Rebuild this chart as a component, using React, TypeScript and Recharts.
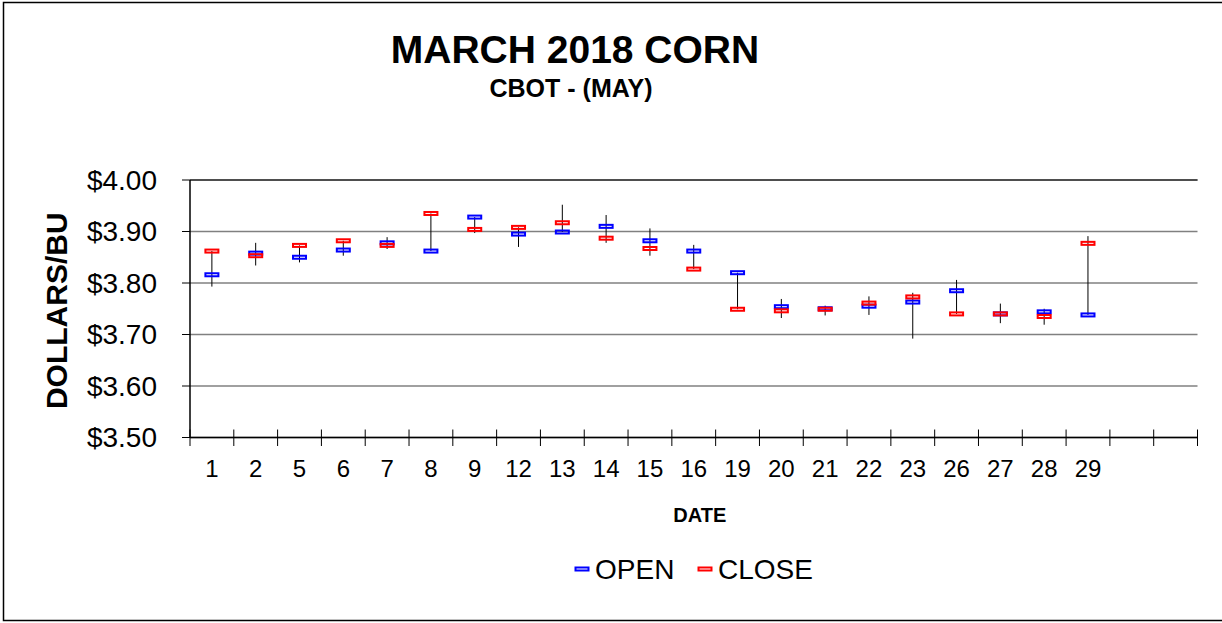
import React from "react"
import { Bar, CartesianGrid, ComposedChart, Line, ReferenceLine, XAxis, YAxis } from "recharts"

const DATES = ["1", "2", "5", "6", "7", "8", "9", "12", "13", "14", "15", "16", "19", "20", "21", "22", "23", "26", "27", "28", "29"]
const OPEN = [3.816, 3.858, 3.85, 3.864, 3.878, 3.862, 3.928, 3.895, 3.899, 3.91, 3.882, 3.862, 3.82, 3.754, 3.75, 3.755, 3.763, 3.785, 3.74, 3.744, 3.738]
const CLOSE = [3.862, 3.853, 3.873, 3.882, 3.873, 3.935, 3.904, 3.908, 3.917, 3.887, 3.867, 3.827, 3.749, 3.746, 3.749, 3.761, 3.773, 3.74, 3.74, 3.735, 3.877]
const HIGH = [3.862, 3.878, 3.873, 3.882, 3.889, 3.935, 3.928, 3.908, 3.952, 3.932, 3.906, 3.874, 3.82, 3.769, 3.756, 3.774, 3.781, 3.806, 3.76, 3.75, 3.891]
const LOW = [3.793, 3.834, 3.84, 3.853, 3.866, 3.862, 3.897, 3.87, 3.899, 3.878, 3.853, 3.827, 3.749, 3.732, 3.737, 3.738, 3.692, 3.74, 3.722, 3.719, 3.738]
const EMPTY_SLOTS = 2
const Y_TICKS = [3.5, 3.6, 3.7, 3.8, 3.9, 4.0]
const SERIES = [
  { name: "OPEN", color: "#0000ff" },
  { name: "CLOSE", color: "#ff0000" },
]

const W = 1222
const H = 623
const MARGIN = { top: 180, right: 24.5, bottom: 85.5, left: 40 }
const Y_AXIS_W = 150
const X_AXIS_H = 100
const FONT = "'Liberation Sans', Arial, sans-serif"

const CATS = [...DATES, ...Array.from({ length: EMPTY_SLOTS }, (_, i) => `blank${i}`)]
const data = CATS.map((key, i) => ({
  key,
  open: OPEN[i],
  close: CLOSE[i],
  range: HIGH[i] !== undefined ? [LOW[i], HIGH[i]] : undefined,
}))

const BAND = (W - MARGIN.left - MARGIN.right - Y_AXIS_W) / CATS.length

function marker(color: string) {
  return (props: any) => {
    const { cx, cy, index } = props
    if (cx == null || cy == null || Number.isNaN(cy)) return <g key={`m-${index}`} />
    return (
      <rect key={`m-${index}`} x={cx - 6.5} y={cy - 1.5} width={13} height={3} fill="none" stroke={color} strokeWidth={2} />
    )
  }
}

function Whisker(props: any) {
  const { x, y, width, height } = props
  if (x == null || y == null) return <g />
  const cx = x + width / 2
  return <line x1={cx} x2={cx} y1={y} y2={y + height} stroke="#000" strokeWidth={1} />
}

function DateTick(props: any) {
  const { x, y, index } = props
  const half = BAND / 2
  return (
    <g>
      <line x1={x - half} x2={x - half} y1={y - 8} y2={y + 8.5} stroke="#000" />
      {index === CATS.length - 1 && <line x1={x + half} x2={x + half} y1={y - 8} y2={y + 8.5} stroke="#000" />}
      <text x={x} y={y + 39.5} textAnchor="middle" fontSize={24} fontFamily={FONT} fill="#000">
        {DATES[index] ?? ""}
      </text>
    </g>
  )
}

export default function App() {
  return (
    <div style={{ position: "absolute", left: 0, top: 0, width: W, height: H, background: "#fff", fontFamily: FONT }}>
      <ComposedChart width={W} height={H} data={data} margin={MARGIN}>
        <CartesianGrid vertical={false} stroke="#808080" strokeWidth={1.5} />
        <XAxis
          dataKey="key"
          height={X_AXIS_H}
          interval={0}
          tickLine={false}
          tickSize={0}
          tickMargin={0}
          axisLine={{ stroke: "#000", strokeWidth: 1.5 }}
          tick={<DateTick />}
          label={{
            value: "DATE",
            content: (p: any) => (
              <text
                x={p.viewBox.x + p.viewBox.width / 2 + 6}
                y={p.viewBox.y + 84}
                textAnchor="middle"
                fontSize={20}
                fontWeight="bold"
                fontFamily={FONT}
                fill="#000"
              >
                DATE
              </text>
            ),
          }}
        />
        <YAxis
          width={Y_AXIS_W}
          domain={[3.5, 4.0]}
          ticks={Y_TICKS}
          interval={0}
          tickSize={8}
          tickMargin={25}
          tickLine={{ stroke: "#000" }}
          axisLine={{ stroke: "#000", strokeWidth: 1.5 }}
          tick={{ fontSize: 28, fill: "#000", fontFamily: FONT }}
          tickFormatter={(v: number) => `$${v.toFixed(2)}`}
          label={{
            value: "DOLLARS/BU",
            content: (p: any) => {
              const x = p.viewBox.x + 27
              const y = p.viewBox.y + p.viewBox.height / 2 + 2
              return (
                <text
                  x={x}
                  y={y}
                  transform={`rotate(-90 ${x} ${y})`}
                  textAnchor="middle"
                  fontSize={30}
                  fontWeight="bold"
                  fontFamily={FONT}
                  fill="#000"
                >
                  DOLLARS/BU
                </text>
              )
            },
          }}
        />
        <YAxis
          yAxisId="frame"
          orientation="right"
          width={0}
          domain={[3.5, 4.0]}
          tick={false}
          tickLine={false}
          axisLine={{ stroke: "#222", strokeWidth: 1.5 }}
        />
        <ReferenceLine y={4.0} stroke="#333" strokeWidth={1.5} />
        <Bar dataKey="range" shape={<Whisker />} isAnimationActive={false} />
        <Line
          dataKey="open"
          stroke="none"
          dot={marker(SERIES[0].color)}
          activeDot={false}
          isAnimationActive={false}
        />
        <Line
          dataKey="close"
          stroke="none"
          dot={marker(SERIES[1].color)}
          activeDot={false}
          isAnimationActive={false}
        />
      </ComposedChart>

      <svg width={W} height={H} style={{ position: "absolute", left: 0, top: 0, pointerEvents: "none" }}>
        <rect x={3.5} y={2.5} width={W + 10} height={618} fill="none" stroke="#000" strokeWidth={1.5} />
        <text x={575} y={63} textAnchor="middle" fontSize={39} fontWeight="bold" fontFamily={FONT}>
          MARCH 2018 CORN
        </text>
        <text x={571} y={97} textAnchor="middle" fontSize={25} fontWeight="bold" fontFamily={FONT}>
          CBOT - (MAY)
        </text>
        {SERIES.map((s, i) => {
          const lx = 575 + i * 123
          return (
            <g key={s.name}>
              <rect x={lx + 0.5} y={567.5} width={13} height={3} fill="none" stroke={s.color} strokeWidth={2} />
              <text x={lx + 20} y={579} fontSize={28} fontFamily={FONT} fill="#000">
                {s.name}
              </text>
            </g>
          )
        })}
      </svg>
    </div>
  )
}
